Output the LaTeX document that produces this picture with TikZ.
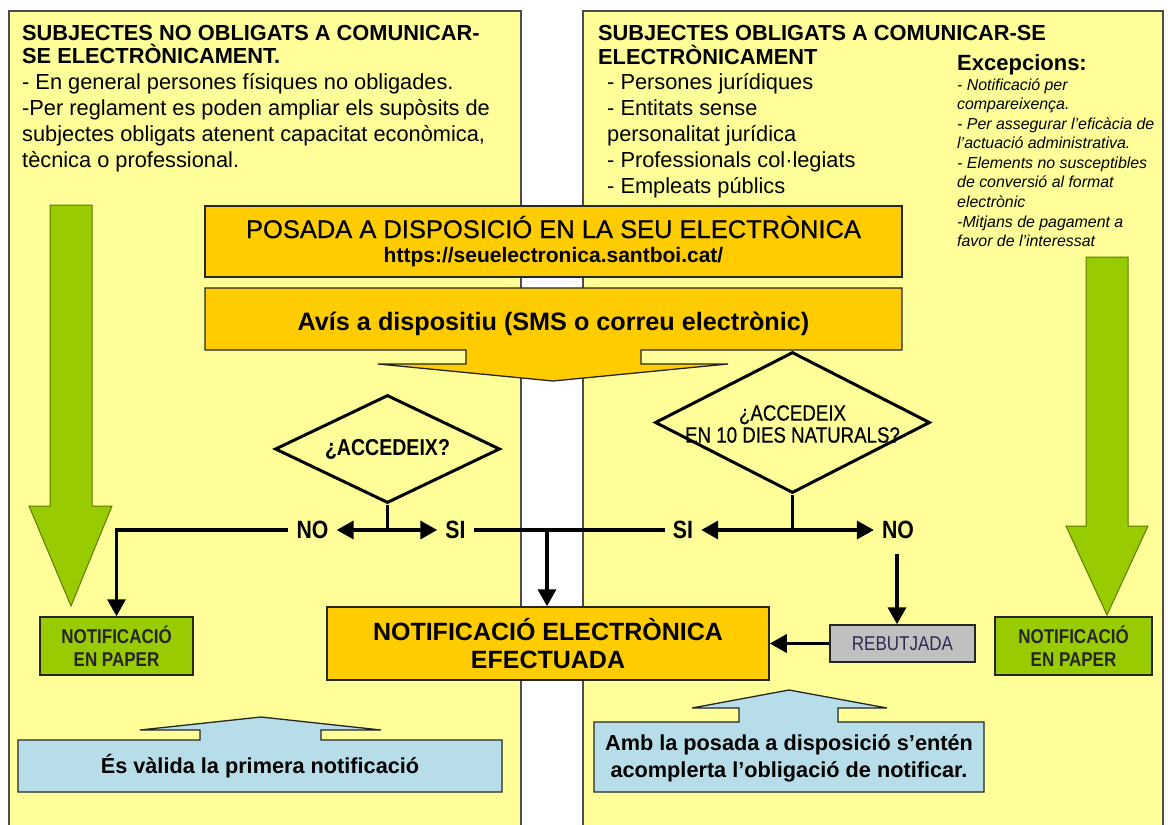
\documentclass[tikz,border=0pt]{standalone}
\usepackage{fontspec}
\setmainfont{Liberation Sans}
\newfontfamily\nrw[FakeStretch=0.85]{Liberation Sans}
\newfontfamily\semib[FakeBold=0.6]{Liberation Sans}
\newfontfamily\nrwsemib[FakeStretch=0.85,FakeBold=0.5]{Liberation Sans}
\usetikzlibrary{arrows.meta,shapes.geometric}
\definecolor{pyellow}{HTML}{FFFF99}
\definecolor{porange}{HTML}{FFCC00}
\definecolor{pgreen}{HTML}{99CC00}
\definecolor{pgreendk}{HTML}{5E7A00}
\definecolor{pblue}{HTML}{B7DEE8}
\definecolor{pgray}{HTML}{C0C0C0}
\definecolor{pnavy}{HTML}{2B2B55}
\begin{document}
\begin{tikzpicture}[x=1pt,y=-1pt,
  panel/.style={draw=black!70,line width=1.3pt,fill=pyellow},
  obox/.style={draw=black!85,line width=1.5pt,fill=porange,inner sep=0pt},
  gbox/.style={draw=black!85,line width=1.5pt,fill=pgreen,inner sep=0pt,align=center,
    font=\nrw\bfseries\fontsize{20}{23}\selectfont,text=black!85},
  rbox/.style={draw=black!85,line width=1.5pt,fill=pgray,inner sep=0pt,
    font=\nrw\fontsize{20}{23}\selectfont,text=pnavy},
  bluecall/.style={draw=black!85,line width=1.3pt,fill=pblue},
  orcall/.style={draw=black!85,line width=1.3pt,fill=porange},
  bigarrow/.style={draw=pgreendk,line width=1pt,fill=pgreen},
  dia/.style={diamond,draw=black,line width=3pt,inner sep=0pt},
  tt/.style={inner sep=0pt,anchor=base west,font=\bfseries\fontsize{21.8}{23}\selectfont},
  bt/.style={inner sep=0pt,anchor=base west,font=\fontsize{21.8}{26}\selectfont},
  it/.style={inner sep=0pt,anchor=base west,font=\itshape\fontsize{15.9}{19.6}\selectfont},
  lab/.style={inner xsep=8pt,inner ysep=0pt,font=\nrw\bfseries\fontsize{25}{26}\selectfont},
  conn/.style={line width=3.5pt,draw=black},
  arr/.style={-{Triangle[width=18pt,length=17pt]}},
  dbl/.style={{Triangle[width=18pt,length=17pt]}-{Triangle[width=18pt,length=17pt]}}
]
\useasboundingbox (0,0) rectangle (1168,825);
\clip (0,0) rectangle (1168,825);
\fill[white] (0,0) rectangle (1168,825);

% panels
\draw[panel] (9,11) rectangle (521,840);
\draw[panel] (583,11) rectangle (1163,840);

% left panel text
\node[tt] (lt1) at (22,40) {SUBJECTES NO OBLIGATS A COMUNICAR-};
\node[tt] (lt2) at (22,63) {SE ELECTRÒNICAMENT.};
\node[bt] (lb1) at (22,89) {- En general persones físiques no obligades.};
\node[bt] (lb2) at (22,115) {-Per reglament es poden ampliar els supòsits de};
\node[bt] (lb3) at (22,141) {subjectes obligats atenent capacitat econòmica,};
\node[bt] (lb4) at (22,167) {tècnica o professional.};

% right panel text
\node[tt] (rt1) at (598,40) {SUBJECTES OBLIGATS A COMUNICAR-SE};
\node[tt] (rt2) at (598,64) {ELECTRÒNICAMENT};
\node[bt] (rb1) at (607,89) {- Persones jurídiques};
\node[bt] (rb2) at (607,115) {- Entitats sense};
\node[bt] (rb3) at (607,141) {personalitat jurídica};
\node[bt] (rb4) at (607,167) {- Professionals col·legiats};
\node[bt] (rb5) at (607,193) {- Empleats públics};

\node[inner sep=0pt,anchor=base west,font=\bfseries\fontsize{22}{24}\selectfont] (exc) at (957,70) {Excepcions:};
\node[it] (e1) at (957,90) {- Notificació per};
\node[it] (e2) at (957,109) {compareixença.};
\node[it] (e3) at (957,129) {- Per assegurar l'eficàcia de};
\node[it] (e4) at (957,148) {l'actuació administrativa.};
\node[it] (e5) at (957,168) {- Elements no susceptibles};
\node[it] (e6) at (957,187) {de conversió al format};
\node[it] (e7) at (957,207) {electrònic};
\node[it] (e8) at (957,227) {-Mitjans de pagament a};
\node[it] (e9) at (957,246) {favor de l'interessat};

% big green arrows
\draw[bigarrow] (50,205) -- (92,205) -- (92,506) -- (112,506) -- (71,606) -- (29,506) -- (50,506) -- cycle;
\draw[bigarrow] (1086,257) -- (1128,257) -- (1128,526) -- (1148,526) -- (1107,615) -- (1066,526) -- (1086,526) -- cycle;

% POSADA box
\node[obox,minimum width=697pt,minimum height=71pt] (posada) at (553.5,241.5) {};
\node[inner sep=0pt,anchor=base,font=\semib\fontsize{25.5}{28}\selectfont] (posT) at (553.5,238) {POSADA A DISPOSICIÓ EN LA SEU ELECTRÒNICA};
\node[inner sep=0pt,anchor=base,font=\bfseries\fontsize{21}{24}\selectfont] (url) at (553.5,262) {https://seuelectronica.santboi.cat/};

% Avis callout
\draw[orcall] (205,288) -- (902,288) -- (902,350) -- (641,350) -- (641,364) -- (728,364) -- (553,381) -- (378,364) -- (466,364) -- (466,350) -- (205,350) -- cycle;
\node[inner sep=0pt,anchor=base,font=\bfseries\fontsize{25.2}{28}\selectfont] (avis) at (553.5,330) {Avís a dispositiu (SMS o correu electrònic)};

% diamonds
\node[dia,fill=pyellow,minimum width=225pt,minimum height=108pt] (d1) at (387.5,449) {};
\node[inner sep=0pt,font=\nrw\bfseries\fontsize{23}{24}\selectfont] (d1t) at (387.5,449) {¿ACCEDEIX?};
\node[dia,fill=pyellow,minimum width=275pt,minimum height=141pt] (d2) at (792.5,422.5) {};
\node[inner sep=0pt,align=center,font=\nrwsemib\fontsize{22}{22}\selectfont] (d2t) at (792.5,424) {¿ACCEDEIX\\EN 10 DIES NATURALS?};

% labels
\node[lab] (noL) at (312.5,530) {NO};
\node[lab] (siL) at (455.5,530) {SI};
\node[lab] (siR) at (683,530) {SI};
\node[lab] (noR) at (898,530) {NO};

% lower boxes
\node[gbox,minimum width=153pt,minimum height=58pt] (paperL) at (116.5,646) {NOTIFICACIÓ\\EN PAPER};
\node[gbox,minimum width=157pt,minimum height=58pt] (paperR) at (1073.5,646) {NOTIFICACIÓ\\EN PAPER};
\node[obox,minimum width=442pt,minimum height=73pt,align=center,
  font=\bfseries\fontsize{25}{28}\selectfont] (notif) at (548,643.5) {NOTIFICACIÓ ELECTRÒNICA\\EFECTUADA};
\node[rbox,minimum width=145pt,minimum height=37pt] (rebut) at (902.5,643.5) {REBUTJADA};

% connectors
\draw[conn] (d1.south) -- (d1.south |- noL.east);
\draw[conn,dbl] (noL.east) -- (siL.west);
\draw[conn,arr] (noL.west) -| (paperL.north);
\draw[conn] (siL.east) -- (siR.west);
\coordinate (br) at (547,530);
\draw[conn,arr] (br) -- (br |- notif.north);
\draw[conn] (d2.south) -- (d2.south |- siR.east);
\draw[conn,dbl] (siR.east) -- (noR.west);
\coordinate (noRb) at (897,554);
\draw[conn,arr] (noRb) -- (noRb |- rebut.north);
\draw[conn,arr] (rebut.west) -- (rebut.west -| notif.east);

% blue callouts
\draw[bluecall] (18,740) -- (200,740) -- (200,730) -- (140,730) -- (261,717) -- (381,730) -- (321,730) -- (321,740) -- (502,740) -- (502,792) -- (18,792) -- cycle;
\node[inner sep=0pt,font=\bfseries\fontsize{21.7}{27}\selectfont] (valid) at (260,766) {És vàlida la primera notificació};
\draw[bluecall] (594,722) -- (739,722) -- (739,708) -- (692,708) -- (789,690) -- (887,708) -- (838,708) -- (838,722) -- (984,722) -- (984,792) -- (594,792) -- cycle;
\node[inner sep=0pt,align=center,font=\bfseries\fontsize{21.7}{27}\selectfont] (amb) at (789,758) {Amb la posada a disposició s'entén\\acomplerta l'obligació de notificar.};
\end{tikzpicture}
\end{document}
